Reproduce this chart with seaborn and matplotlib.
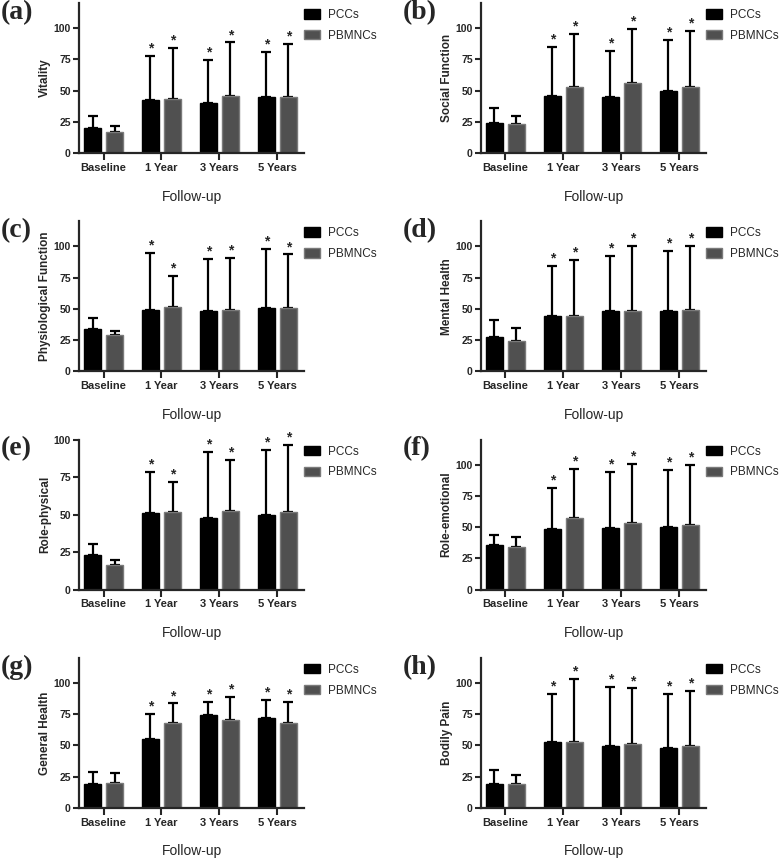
import numpy as np
import pandas as pd
import matplotlib
matplotlib.use("Agg")
import matplotlib.pyplot as plt
from matplotlib.patches import Patch
import seaborn as sns

# ---- data ----
times = ["Baseline", "1 Year", "3 Years", "5 Years"]
groups = ["PCCs", "PBMNCs"]
panel_tags = ["(a)", "(b)", "(c)", "(d)", "(e)", "(f)", "(g)", "(h)"]
ylabels = ["Vitality", "Social Function", "Physiological Function", "Mental Health",
           "Role-physical", "Role-emotional", "General Health", "Bodily Pain"]
ytops = [120, 120, 120, 120, 100, 120, 120, 120]

pcc_mean = [[20.5, 42.5, 40.5, 45.0],
            [24.0, 46.0, 45.0, 50.0],
            [34.0, 49.5, 48.5, 50.5],
            [27.5, 44.5, 48.0, 48.5],
            [23.0, 51.0, 48.0, 49.5],
            [36.0, 48.5, 49.0, 50.0],
            [19.5, 55.0, 74.0, 72.0],
            [19.5, 52.5, 49.5, 48.0]]
pcc_sd = [[9.5, 35.5, 34.0, 36.0],
          [12.5, 39.0, 36.5, 40.5],
          [8.5, 45.0, 41.5, 47.5],
          [14.0, 40.0, 44.0, 48.0],
          [7.5, 27.5, 43.5, 43.5],
          [7.5, 33.0, 45.0, 46.0],
          [9.0, 20.0, 10.5, 14.0],
          [11.0, 38.5, 47.0, 43.0]]
pbm_mean = [[17.0, 43.5, 46.0, 45.0],
            [23.5, 52.5, 56.0, 53.0],
            [29.5, 51.5, 49.0, 50.5],
            [24.0, 44.5, 48.0, 49.5],
            [16.5, 51.5, 52.5, 52.0],
            [34.0, 57.0, 53.5, 52.0],
            [20.0, 67.5, 70.0, 67.5],
            [19.0, 52.5, 51.0, 49.5]]
pbm_sd = [[5.0, 40.5, 42.5, 42.0],
          [6.5, 42.5, 43.0, 44.5],
          [3.0, 24.5, 41.5, 43.0],
          [11.0, 44.5, 52.5, 51.0],
          [3.0, 20.5, 34.0, 44.5],
          [8.5, 39.5, 47.0, 47.5],
          [8.0, 16.0, 18.5, 17.5],
          [7.5, 50.5, 44.5, 44.0]]
# significance marks (vs baseline)
signif = [False, True, True, True]

colors = {"PCCs": "#000000", "PBMNCs": "#505050"}
edges = {"PCCs": "#000000", "PBMNCs": "#7a7a7a"}

sns.set_style("ticks")
plt.rcParams["font.family"] = ["Liberation Sans", "DejaVu Sans"]

fig, axes = plt.subplots(4, 2, figsize=(7.84, 8.58), dpi=100)
fig.subplots_adjust(left=0.101, right=0.9005, top=0.9965, bottom=0.0583,
                    wspace=0.787, hspace=0.453)

for i, ax in enumerate(axes.flat):
    df = pd.DataFrame({
        "time": times * 2,
        "group": [groups[0]] * 4 + [groups[1]] * 4,
        "score": pcc_mean[i] + pbm_mean[i],
        "sd": pcc_sd[i] + pbm_sd[i],
    })
    sns.barplot(data=df, x="time", y="score", hue="group", order=times,
                hue_order=groups, palette=colors, errorbar=None, width=0.76,
                gap=0.25, legend=False, ax=ax, zorder=2)

    for cont, g in zip(ax.containers, groups):
        sub = df[df["group"] == g].set_index("time").loc[times]
        for bar, (t, row), star in zip(cont.patches, sub.iterrows(), signif):
            bar.set_edgecolor(edges[g])
            bar.set_linewidth(1.0)
            xc = bar.get_x() + bar.get_width() / 2
            ax.errorbar(xc, row["score"], yerr=[[0], [row["sd"]]], fmt="none",
                        ecolor="black", elinewidth=1.6, capsize=3.6,
                        capthick=1.6, zorder=1)
            if star:
                ax.annotate("*", (xc, row["score"] + row["sd"]),
                            xytext=(0, 0.3), textcoords="offset points",
                            ha="center", va="bottom", fontsize=10,
                            fontweight="bold")

    ax.set_xlim(-0.42, 3.46)
    ax.set_ylim(0, ytops[i])
    ax.set_yticks([0, 25, 50, 75, 100])
    ax.set_xlabel("Follow-up", fontsize=10, labelpad=12)
    ax.set_ylabel(ylabels[i], fontsize=8.5, fontweight="bold", labelpad=2)
    ax.tick_params(axis="both", width=1.5, length=4, direction="out", pad=2)
    ax.tick_params(axis="x", length=5, labelsize=8)
    ax.tick_params(axis="y", labelsize=7.5)
    for lab in ax.get_xticklabels() + ax.get_yticklabels():
        lab.set_fontweight("bold")
    sns.despine(ax=ax)
    for sp in ("left", "bottom"):
        ax.spines[sp].set_linewidth(1.6)

    handles = [Patch(facecolor=colors[g], edgecolor=edges[g], label=g) for g in groups]
    ax.legend(handles=handles, loc="upper left", bbox_to_anchor=(1.0, 0.96),
              frameon=False, fontsize=8.5, handlelength=1.35, handleheight=0.85,
              handletextpad=0.7, labelspacing=0.75, borderpad=0, borderaxespad=0)

    ax.annotate(panel_tags[i], (0, 1), xycoords="axes fraction",
                xytext=(-78, 3), textcoords="offset pixels", ha="left", va="top",
                fontsize=20, fontweight="bold", family="Liberation Serif")

fig.savefig("out.png", dpi=100)
